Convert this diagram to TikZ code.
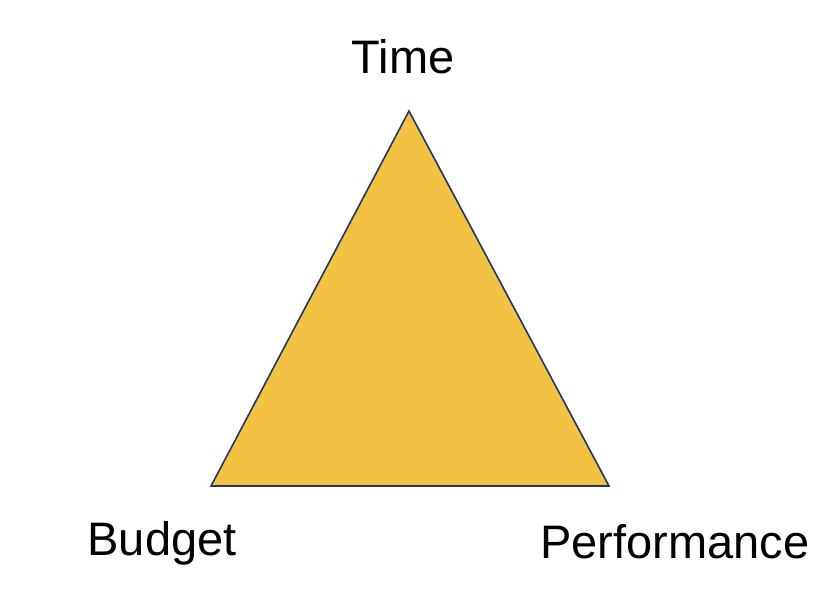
\documentclass[tikz,border=0pt]{standalone}
\usepackage{fontspec}
\setmainfont{Liberation Sans}
\definecolor{triFill}{HTML}{F4C242}
\definecolor{triLine}{HTML}{1F3864}
\begin{document}
\begin{tikzpicture}[x=1pt,y=-1pt,
  lbl/.style={anchor=base,inner sep=0pt,font=\fontsize{47}{56}\selectfont}]
\useasboundingbox (0,0) rectangle (832,614);
\coordinate (t) at (409,111);
\coordinate (bl) at (211,486);
\coordinate (br) at (609,486);
\filldraw[fill=triFill,draw=triLine,line width=1.6pt,line join=miter] (t) -- (br) -- (bl) -- cycle;
\node[lbl] (time) at (403,73) {Time};
\node[lbl] (budget) at (162,555) {Budget};
\node[lbl] (perf) at (675,558) {Performance};
\end{tikzpicture}
\end{document}
